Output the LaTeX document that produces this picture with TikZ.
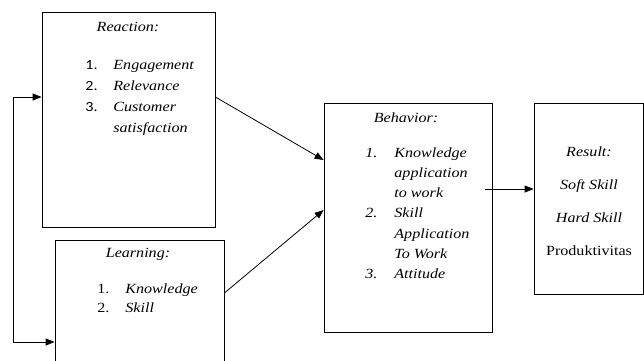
\documentclass[tikz,border=0pt]{standalone}
\usepackage{fontspec}
\setmainfont[FakeStretch=1.15]{Liberation Serif}
\newfontfamily\numfont[FakeStretch=1.15]{Carlito}
\usetikzlibrary{arrows.meta, positioning}

\begin{document}
\begin{tikzpicture}[x=1pt, y=-1pt, line width=0.8pt,
    >={Triangle[length=9pt, width=7pt]},
    box/.style={draw=black, inner sep=0pt},
    txt/.style={inner sep=0pt, font=\fontsize{14}{16}\selectfont\itshape},
  ]
  \useasboundingbox (0,0) rectangle (644,360);

  % Boxes manually positioned
  \node[box, minimum width=173pt, minimum height=215pt] (reaction) at (128.5,119.5) {};
  \node[box, minimum width=169pt, minimum height=128pt] (learning) at (139.5,304) {};
  \node[box, minimum width=168pt, minimum height=229pt] (behavior) at (408,217.5) {};
  \node[box, minimum width=109pt, minimum height=191pt] (result) at (588.5,198.5) {};

  % Titles
  \node[txt, anchor=base] (reactiontitle) at (128,31) {Reaction:};
  \node[txt, anchor=base] (learningtitle) at (138,257) {Learning:};
  \node[txt, anchor=base] (behaviortitle) at (406,122) {Behavior:};

  % Lists
  \node[txt, anchor=base west] (reactionlist) at (85,69) {\fontsize{14}{21}\selectfont
    \begin{tabular}[t]{@{}p{28pt}@{}l@{}}
      \upshape\numfont 1. & Engagement\\
      \upshape\numfont 2. & Relevance\\
      \upshape\numfont 3. & Customer\\
                          & satisfaction
    \end{tabular}};
  \node[txt, anchor=base west] (learninglist) at (97,293) {\fontsize{14}{19}\selectfont
    \begin{tabular}[t]{@{}p{28pt}@{}l@{}}
      \upshape 1. & Knowledge\\
      \upshape 2. & Skill
    \end{tabular}};
  \node[txt, anchor=base west] (behaviorlist) at (365,157) {\fontsize{14}{20.33}\selectfont
    \begin{tabular}[t]{@{}p{29pt}@{}l@{}}
      1. & Knowledge\\
         & application\\
         & to work\\
      2. & Skill\\
         & Application\\
         & To Work\\
      3. & Attitude
    \end{tabular}};
  \node[txt, anchor=base] (resultlist) at (589,156) {\fontsize{14}{33.3}\selectfont
    \begin{tabular}[t]{@{}c@{}}
      Result:\\
      Soft Skill\\
      Hard Skill\\
      \upshape Produktivitas
    \end{tabular}};

  % Connectors
  \coordinate (fbtop) at (13,97);
  \coordinate (fbbot) at (13,342);
  \draw[<->] (reaction.west |- fbtop) -- (fbtop) -- (fbbot) -- (learning.west |- fbbot);

  \draw[->] ([yshift=22.5pt]reaction.east) -- ([yshift=57.5pt]behavior.west);
  \draw[->] ([yshift=11pt]learning.east) -- ([yshift=7.5pt]behavior.west);
  \draw[->] ([yshift=28.5pt, xshift=-7pt]behavior.east) -- ([yshift=28.5pt]behavior.east -| result.west);

\end{tikzpicture}
\end{document}
